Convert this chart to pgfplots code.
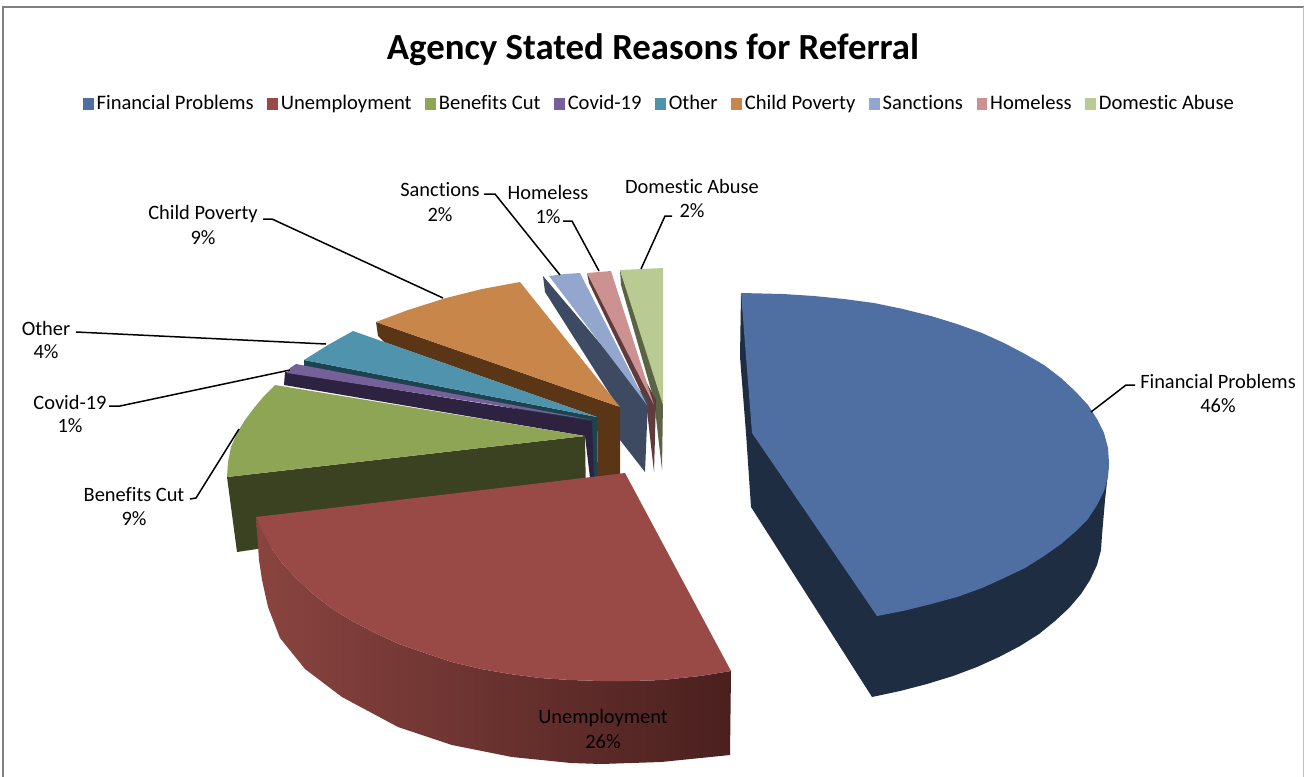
\documentclass[border=0pt]{standalone}
\usepackage{pgfplots}
\pgfplotsset{compat=1.18}
\usepackage{fontspec}
\setmainfont{Carlito}[Ligatures=NoCommon]
\definecolor{cBlue}{HTML}{4F6FA3}\definecolor{cBlueS}{HTML}{1E2D42}
\definecolor{cRed}{HTML}{994A46}\definecolor{cRedL}{HTML}{8A4440}\definecolor{cRedM}{HTML}{6E3430}\definecolor{cRedR}{HTML}{4A201E}
\definecolor{cGreen}{HTML}{8EA556}\definecolor{cGreenS}{HTML}{3A4221}
\definecolor{cPur}{HTML}{75609A}\definecolor{cPurS}{HTML}{2D2340}
\definecolor{cTeal}{HTML}{4F93AD}\definecolor{cTealS}{HTML}{1D4350}
\definecolor{cOr}{HTML}{C9864A}\definecolor{cOrS}{HTML}{5B3616}
\definecolor{cSan}{HTML}{93A6CD}\definecolor{cSanS}{HTML}{3E4A62}
\definecolor{cHom}{HTML}{CC9291}\definecolor{cHomS}{HTML}{5F3B3B}
\definecolor{cDom}{HTML}{B9CA92}\definecolor{cDomS}{HTML}{5A6444}
\definecolor{cFrame}{HTML}{808080}
\pgfplotsset{face/.style={fill=#1,draw=none,forget plot,mark=none,line width=0pt},
 leader/.style={black,line width=0.75pt,forget plot,mark=none},
 swatch/.style={legend image code/.code={\fill[#1] (0cm,-0.09cm) rectangle (0.17cm,0.09cm);}}}
\begin{document}
\begin{tikzpicture}
\begin{axis}[scale only axis,width=652pt,height=388pt,xmin=0,xmax=1304,ymin=0,ymax=776,y dir=reverse,hide axis,clip=true,
 legend columns=9,legend cell align=left,
 legend style={at={(axis cs:660,104)},anchor=center,draw=none,fill=none,font=\fontsize{10.3pt}{12pt}\selectfont,
  /tikz/every even column/.append style={column sep=5.2pt},inner sep=0pt,outer sep=0pt,
  nodes={inner xsep=1.6pt,inner ysep=0pt}}]
\path (rel axis cs:0,0) rectangle (rel axis cs:1,1);
\addlegendimage{swatch=cBlue}\addlegendentry{Financial Problems}
\addlegendimage{swatch=cRed}\addlegendentry{Unemployment}
\addlegendimage{swatch=cGreen}\addlegendentry{Benefits Cut}
\addlegendimage{swatch=cPur}\addlegendentry{Covid-19}
\addlegendimage{swatch=cTeal}\addlegendentry{Other}
\addlegendimage{swatch=cOr}\addlegendentry{Child Poverty}
\addlegendimage{swatch=cSan}\addlegendentry{Sanctions}
\addlegendimage{swatch=cHom}\addlegendentry{Homeless}
\addlegendimage{swatch=cDom}\addlegendentry{Domestic Abuse}
% frame
\addplot[cFrame,line width=0.9pt,forget plot] coordinates {(3,790)(3,7)(1304,7)};
\addplot[cFrame!50,line width=0.5pt,forget plot] coordinates {(1303,7)(1303,790)};
% Domestic Abuse
\addplot[face=cDomS] coordinates {(620,270)(621,285)(654,400)(662,470)(663,400)} --cycle;
\addplot[face=cDom] coordinates {(620,270)(642,269)(663,268)(663,405)} --cycle;
% Homeless
\addplot[face=cHomS] coordinates {(587,273)(589,283)(646,402)(654,472)(656,400)} --cycle;
\addplot[face=cHom] coordinates {(587,273)(599,272)(611,271)(654,405)} --cycle;
% Sanctions
\addplot[face=cSanS] coordinates {(543,276)(545,292)(620,410)(620,440)(645,472)(648,400)} --cycle;
\addplot[face=cSan] coordinates {(549,276)(565,274)(580,273)(647,405)} --cycle;
% Child Poverty
\addplot[face=cOrS] coordinates {(376,322)(378,336)(384,342)(597,417)(598,477)(620,475)(620,407)} --cycle;
\addplot[face=cOr] coordinates {(520,282)(482,289)(446,298)(408,310)(376,322)(620,407)} --cycle;
% Other
\addplot[face=cTealS] coordinates {(304,360)(304,366)(590,424)(592,478)(598,478)(597,417)} --cycle;
\addplot[face=cTeal] coordinates {(353,331)(328,345)(304,360)(597,417)} --cycle;
% Covid-19
\addplot[face=cPurS] coordinates {(285,372)(284,385)(585,436)(590,478)(594,478)(592,421)} --cycle;
\addplot[face=cPur] coordinates {(296,364)(290,368)(287,373)(592,420)} --cycle;
% Benefits Cut
\addplot[face=cGreenS] coordinates {(227,477)(585,436)(586,500)(237,552)} --cycle;
\addplot[face=cGreen] coordinates {(275,385)(264,396)(254,408)(245,420)(237,433)(231,447)(228,462)(227,477)(585,436)} --cycle;
% Unemployment
\addplot[draw=none,forget plot,left color=cRedL,middle color=cRedM,right color=cRedR] coordinates {(256,517)(259,560)(262,580)(268,607)(280,638)(305,669)(342,697)(398,727)(452,745)(512,757)(571,763)(601,764)(631,763)(661,762)(730,755)(731,671)(700,676)(662,680)(632,681)(601,681)(570,680)(540,678)(510,674)(481,669)(452,662)(425,653)(399,644)(375,633)(352,621)(331,608)(313,594)(296,578)(282,563)(270,546)(261,529)} --cycle;
\addplot[face=cRed] coordinates {(625,473)(256,517)(261,529)(270,546)(282,563)(296,578)(313,594)(331,608)(352,621)(375,633)(399,644)(425,653)(452,662)(481,669)(510,674)(540,678)(570,680)(601,681)(632,681)(662,680)(700,676)(731,671)} --cycle;
% Financial Problems
\addplot[face=cBlueS] coordinates {(741,293)(740,357)(746,433)(751,507)(872,697)(900,691)(927,684)(953,676)(977,667)(999,657)(1020,646)(1039,634)(1055,621)(1069,608)(1081,594)(1090,580)(1097,565)(1101,550)(1102,535)(1105,500)(1109,463)} --cycle;
\addplot[face=cBlue] coordinates {(741,293)(783,294)(814,296)(844,299)(874,303)(903,309)(931,316)(957,324)(982,333)(1004,343)(1025,354)(1044,365)(1061,378)(1075,391)(1088,405)(1097,419)(1104,433)(1108,448)(1109,463)(1108,477)(1104,491)(1097,505)(1088,519)(1075,532)(1061,544)(1044,556)(1025,568)(1004,578)(982,588)(957,597)(931,604)(903,611)(877,616)(752,433)} --cycle;
% leaders
\addplot[leader] coordinates {(1091,412)(1126,385)(1135,385)};
\addplot[leader] coordinates {(239,429)(196,498)(190,499)};
\addplot[leader] coordinates {(290,370)(120,406)(109,406)};
\addplot[leader] coordinates {(326,344)(76,332)};
\addplot[leader] coordinates {(443,298)(272,219)(263,219)};
\addplot[leader] coordinates {(560,275)(495,194)(484,194)};
\addplot[leader] coordinates {(599,271)(572,221)(563,221)};
\addplot[leader] coordinates {(641,269)(665,216)(672,216)};
% text
\node[font=\bfseries\fontsize{18.4pt}{20pt}\selectfont] at (axis cs:653,50) {Agency Stated Reasons for Referral};
\tikzset{lab/.style={font=\fontsize{10.2pt}{12pt}\selectfont,inner sep=0pt}}
\foreach \x/\y/\t in {1218/381/Financial Problems,1218/406/46\%,603/718/Unemployment,603/742/26\%,134/495/Benefits Cut,134/519/9\%,70/402/Covid-19,70/426/1\%,46/328/Other,46/352/4\%,203/214/Child Poverty,203/238/9\%,440/190/Sanctions,440/215/2\%,548/192/Homeless,548/217/1\%,692/186/Domestic Abuse,692/211/2\%}{
 \edef\tmp{\noexpand\node[lab] at (axis cs:\x,\y) {\unexpanded\expandafter{\t}};}\tmp
}
\end{axis}
\end{tikzpicture}
\end{document}
